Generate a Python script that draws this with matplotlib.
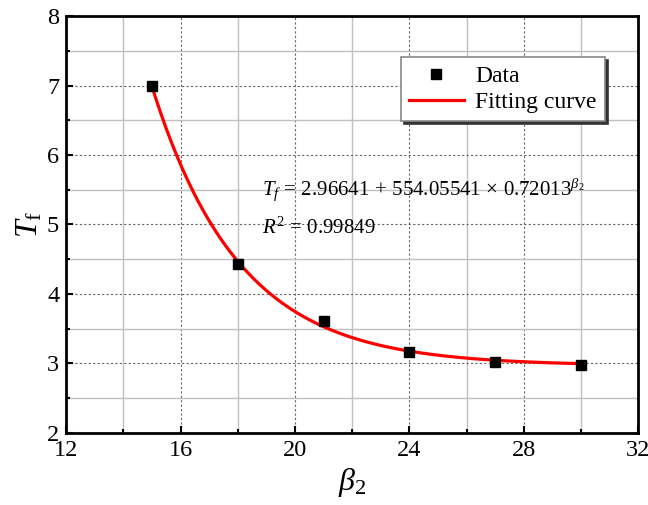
import numpy as np
import matplotlib
matplotlib.use("Agg")
import matplotlib.pyplot as plt
from matplotlib.ticker import MultipleLocator

plt.rcParams['font.family'] = ['Liberation Serif', 'DejaVu Serif']
plt.rcParams['mathtext.fontset'] = 'custom'
plt.rcParams['mathtext.rm'] = 'Liberation Serif'
plt.rcParams['mathtext.it'] = 'Liberation Serif:italic'
plt.rcParams['mathtext.bf'] = 'Liberation Serif:bold'

# measured data
beta2 = [15, 18, 21, 24, 27, 30]
tf = [7.0, 4.43, 3.61, 3.16, 3.02, 2.98]

# fit coefficients shown on the chart: Tf = a + b * c**beta2
fit_a = 2.96641
fit_b = 554.05541
fit_c = 0.72013
fit_r2 = 0.99849

fig = plt.figure(figsize=(6.48, 5.05), dpi=100)
ax = fig.add_axes([0.102, 0.143, 0.883, 0.825])

xs = np.linspace(beta2[0], beta2[-1], 300)
ax.plot(xs, fit_a + fit_b * fit_c ** xs, color='red', lw=2.3, label='Fitting curve', zorder=3)
ax.plot(beta2, tf, 's', color='black', ms=6.5, label='Data', zorder=4)

ax.set_xlim(12, 32)
ax.set_ylim(2, 8)
ax.xaxis.set_major_locator(MultipleLocator(4))
ax.xaxis.set_minor_locator(MultipleLocator(2))
ax.yaxis.set_major_locator(MultipleLocator(1))
ax.yaxis.set_minor_locator(MultipleLocator(0.5))

ax.grid(which='major', ls=(0, (2, 2)), color='#666666', lw=0.8)
ax.grid(which='minor', ls='-', color='#c0c0c0', lw=1.0)
ax.set_axisbelow(True)

ax.tick_params(which='both', direction='in', top=False, right=False, labelsize=17.5, width=1.5, pad=5)
ax.tick_params(which='major', length=5)
ax.tick_params(which='minor', length=3)
for s in ax.spines.values():
    s.set_linewidth(2)

ax.set_xlabel(r'$\beta_2$', fontsize=23, labelpad=4)
ax.set_ylabel(r'$T_{\mathrm{f}}$', fontsize=23, labelpad=2)

ax.text(18.85, 5.5, r'$T_f\,=\,%.5f\,+\,%.5f\,\times\,%.5f^{\beta_2}$' % (fit_a, fit_b, fit_c),
        fontsize=15, va='center')
ax.text(18.85, 4.95, r'$R^2\,=\,%.5f$' % fit_r2, fontsize=15, va='center')

handles, labels = ax.get_legend_handles_labels()
leg = ax.legend(handles[::-1], labels[::-1], loc='upper right', bbox_to_anchor=(0.942, 0.902),
                borderaxespad=0, fontsize=17, frameon=True, fancybox=False,
                shadow={'color': '#333333', 'alpha': 1.0},
                handlelength=2.3, handletextpad=0.5, borderpad=0.35, labelspacing=0.2)
leg.get_frame().set_edgecolor('#888888')
leg.get_frame().set_linewidth(1.2)

fig.savefig('out.png', dpi=100)
